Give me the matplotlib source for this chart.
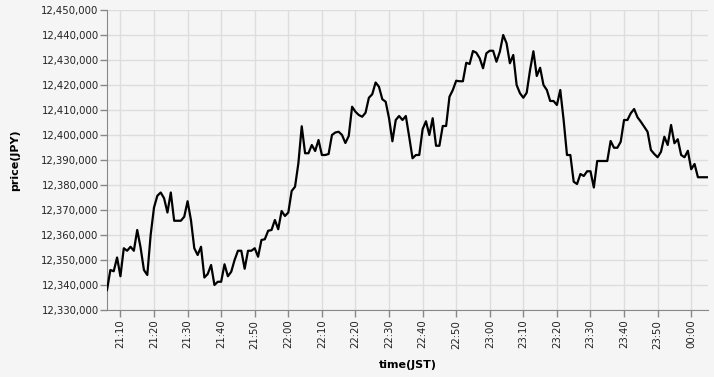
import numpy as np
import pandas as pd
import matplotlib
matplotlib.use("Agg")
import matplotlib.pyplot as plt
import matplotlib.dates as mdates
import matplotlib.ticker as ticker

# ── Data: 1-minute prices (thousand JPY above 12,000,000), 21:06 -> 00:05 JST ──
start_time = "2024-01-01 21:06"
price_k = [
    # 21:06 - 21:59
    338, 346, 345.5, 351, 343.5, 354.7, 353.7, 355.3, 353.7, 362,
    355, 346, 344, 360, 371, 375.7, 377, 374.7, 369, 377,
    365.7, 365.7, 365.7, 367.3, 373.5, 366, 354.7, 352, 355.3, 343,
    344.4, 348, 340, 341.3, 341.3, 348.3, 343.5, 345.3, 350, 353.7,
    353.7, 346.5, 353.7, 353.7, 354.7, 351.3, 358, 358.3, 361.7, 362,
    366, 362.3, 369.6, 367.6,
    # 22:00 - 22:59
    369, 377.6, 379.3, 388.7, 403.5, 392.7, 392.7, 396, 393.6, 398,
    392, 392, 392.4, 400, 401, 401.3, 400, 396.8, 399.6, 411.3,
    409.3, 408, 407.3, 408.9, 414.9, 416.3, 421, 419.3, 414.3, 413.3,
    406.7, 397.5, 406, 407.6, 406, 407.6, 399.3, 390.7, 392, 392,
    402.3, 405.5, 400, 406.7, 395.7, 395.7, 403.6, 403.6, 415.3, 418,
    421.7, 421.5, 421.5, 428.9, 428.4, 433.6, 432.9, 430.7, 426.7, 432.7,
    # 23:00 - 23:59
    433.7, 433.7, 429.3, 433.3, 440, 436.7, 428.7, 432, 420, 416.7,
    414.9, 416.9, 426, 433.5, 423.6, 426.9, 420, 418, 413.6, 413.6,
    412, 418, 406, 392, 392, 381.3, 380.4, 384.4, 383.6, 385.5,
    385.5, 379, 389.6, 389.6, 389.6, 389.6, 397.6, 394.9, 394.9, 397.3,
    406, 406, 408.7, 410.4, 407.1, 405.3, 403.3, 401.3, 394, 392.4,
    391.1, 393.3, 399.3, 396, 404, 396.7, 398.3, 392, 391.1, 393.7,
    # 00:00 - 00:05
    386.3, 388.4, 383.1, 383.1, 383.1, 383.1,
]

times = pd.date_range(start_time, periods=len(price_k), freq="1min")
prices = 12_000_000 + np.array(price_k) * 1000

# ── Plot ──────────────────────────────────────────────────────────────────────
BG = "#f5f5f5"
plt.rcParams["font.family"] = ["DejaVu Sans"]

fig = plt.figure(figsize=(7.14, 3.77), dpi=100, facecolor=BG)
ax = fig.add_axes([107 / 714, 67 / 377, 601 / 714, 300 / 377], facecolor=BG)

ax.plot(times, prices, color="black", linewidth=1.6, zorder=3)

ax.set_xlim(times[0], times[-1])
ax.set_ylim(12_330_000, 12_450_000)

ax.yaxis.set_major_locator(ticker.MultipleLocator(10_000))
ax.yaxis.set_major_formatter(ticker.FuncFormatter(lambda v, _: f"{v:,.0f}"))
ax.xaxis.set_major_locator(mdates.MinuteLocator(byminute=range(0, 60, 10)))
ax.xaxis.set_major_formatter(mdates.DateFormatter("%H:%M"))

ax.grid(True, color="#dddddd", linewidth=1)
ax.set_axisbelow(True)
for side in ["top", "right"]:
    ax.spines[side].set_visible(False)
for side in ["left", "bottom"]:
    ax.spines[side].set_color("#888888")

ax.tick_params(axis="both", colors="#888888", length=5, width=1,
               labelsize=7.3, labelcolor="#222222", pad=2)
ax.tick_params(axis="y", pad=1)
plt.setp(ax.get_xticklabels(), rotation=90)

ax.set_xlabel("time(JST)", fontsize=8, fontweight="bold", labelpad=8)
# y title placed in figure coords so it sits at the far left like the original
fig.text(15 / 714, 1 - 160 / 377, "price(JPY)", rotation=90, ha="center",
         va="center", fontsize=8, fontweight="bold")

fig.savefig("out.png", dpi=100, facecolor=BG)
